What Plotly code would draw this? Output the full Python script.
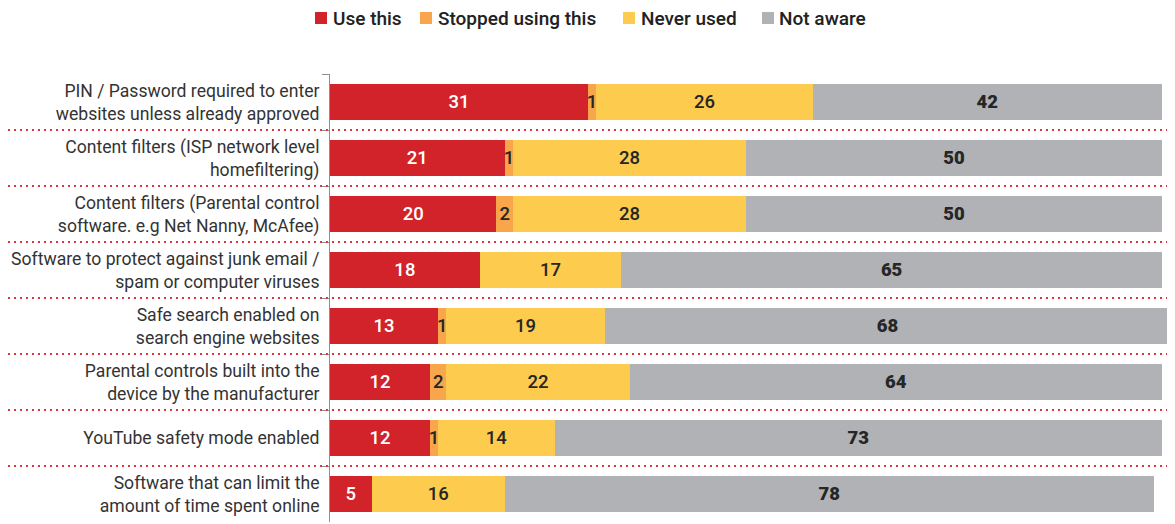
import plotly.graph_objects as go

categories = [
    "PIN / Password required to enter<br>websites unless already approved",
    "Content filters (ISP network level<br>homefiltering)",
    "Content filters (Parental control<br>software. e.g Net Nanny, McAfee)",
    "Software to protect against junk email /<br>spam or computer viruses",
    "Safe search enabled on<br>search engine websites",
    "Parental controls built into the<br>device by the manufacturer",
    "YouTube safety mode enabled",
    "Software that can limit the<br>amount of time spent online",
]
use_this = [31, 21, 20, 18, 13, 12, 12, 5]
stopped_using = [1, 1, 2, 0, 1, 2, 1, 0]
never_used = [26, 28, 28, 17, 19, 22, 14, 16]
not_aware = [42, 50, 50, 65, 68, 64, 73, 78]
series_names = ["Use this", "Stopped using this", "Never used", "Not aware"]

colors = ["#d2232a", "#f9a54b", "#fdcb4e", "#b1b2b5"]
text_colors = ["white", "#262626", "#262626", "#262626"]
text_fonts = ["Roboto Medium", "Roboto Medium", "Roboto Medium", "Roboto Black"]

# page has an 8px body margin: figure occupies page px 8..1175 / 8..524
OFF = 8
W, H = 1175 - OFF, 524 - OFF
ML, MR, MT, MB = 330 - OFF, 0, 74 - OFF, 2
PW, PH = W - ML - MR, H - MT - MB

def px_x(p):  # page pixel -> paper x
    return (p - OFF - ML) / PW

def px_y(p):  # page pixel -> paper y
    return (H - MB - (p - OFF)) / PH

fig = go.Figure()
for name, vals, color, tcolor, tfont in zip(
        series_names, [use_this, stopped_using, never_used, not_aware],
        colors, text_colors, text_fonts):
    fig.add_trace(go.Bar(
        name=name,
        y=categories,
        x=vals,
        orientation="h",
        marker=dict(color=color, line=dict(width=0)),
        text=[str(v) if v else "" for v in vals],
        textposition="inside",
        insidetextanchor="middle",
        textangle=0,
        constraintext="none",
        textfont=dict(color=tcolor, size=18.5, family=tfont),
        hoverinfo="x+y+name",
        showlegend=False,
    ))

shapes = []
for i in range(len(categories) - 1):
    shapes.append(dict(
        type="line", xref="paper", yref="y",
        x0=px_x(8), x1=1.0, y0=i + 0.5, y1=i + 0.5,
        line=dict(color="#e2343b", width=2, dash="2px,4px"),
        layer="above",
    ))

# manual legend (squares + labels)
legend_sq_left = [315, 420, 623, 762]
legend_txt_left = [332, 437, 640, 778]
annotations = []
for name, color, sx, tx in zip(series_names, colors, legend_sq_left, legend_txt_left):
    shapes.append(dict(
        type="rect", xref="paper", yref="paper",
        x0=px_x(sx), x1=px_x(sx + 12), y0=px_y(24), y1=px_y(12),
        fillcolor=color, line=dict(width=0),
    ))
    annotations.append(dict(
        xref="paper", yref="paper", x=px_x(tx - 1), y=px_y(18.5),
        xanchor="left", yanchor="middle", showarrow=False,
        text=name, font=dict(size=19, color="#222222", family="Roboto Medium"),
    ))

fig.update_layout(
    barmode="stack",
    width=W, height=H,
    margin=dict(l=ML, r=MR, t=MT, b=MB, autoexpand=False),
    bargap=0.357,
    plot_bgcolor="white",
    paper_bgcolor="white",
    font=dict(family="Roboto", color="#333333"),
    showlegend=False,
    xaxis=dict(range=[0, 100 * PW / 832], visible=False, fixedrange=True),
    yaxis=dict(
        autorange="reversed", automargin=False,
        showline=True, linecolor="#8a8f99", linewidth=1,
        ticks="outside", tickson="boundaries", ticklen=7, tickcolor="#8a8f99",
        ticklabelstandoff=6,
        tickfont=dict(size=17.6, color="#333333", family="Roboto"),
        showgrid=False,
    ),
    shapes=shapes,
    annotations=annotations,
)

fig.write_html("out.html")
